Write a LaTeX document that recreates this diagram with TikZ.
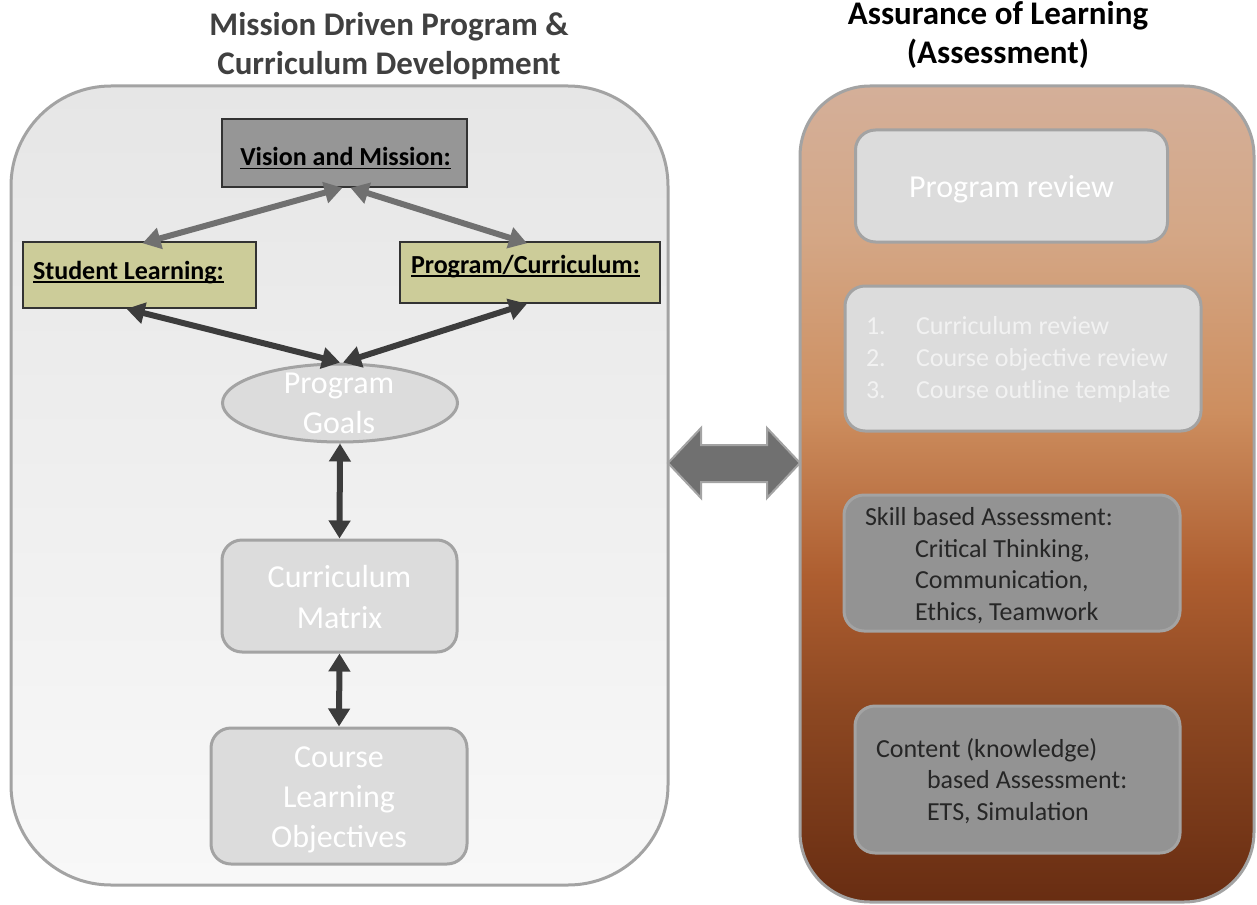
\documentclass[tikz,border=0pt]{standalone}
\usepackage{fontspec}
\setmainfont{Carlito}
\usetikzlibrary{arrows.meta,shapes.geometric}
\definecolor{lbTop}{HTML}{E6E6E6}
\definecolor{lbBot}{HTML}{F8F8F8}
\definecolor{bord}{HTML}{A3A3A3}
\definecolor{lightfill}{HTML}{DCDCDC}
\definecolor{darkfill}{HTML}{939393}
\definecolor{vmfill}{HTML}{969696}
\definecolor{olive}{HTML}{CCCC99}
\definecolor{grayarr}{HTML}{707070}
\definecolor{darkarr}{HTML}{3C3C3C}
\definecolor{titlegray}{HTML}{404040}
\definecolor{darktext}{HTML}{262626}
\definecolor{listtext}{HTML}{F2F2F2}
\definecolor{aolT}{HTML}{D4AF99}
\definecolor{aolF}{HTML}{D4A786}
\definecolor{aolE}{HTML}{CD8E5F}
\definecolor{aolD}{HTML}{AE5E30}
\definecolor{aolC}{HTML}{8D4822}
\definecolor{aolB}{HTML}{682D12}
\pgfdeclareverticalshading{aolshade}{100bp}{color(0bp)=(aolB); color(25bp)=(aolB); color(37bp)=(aolC); color(45bp)=(aolD); color(55bp)=(aolE); color(66bp)=(aolF); color(75bp)=(aolT); color(100bp)=(aolT)}
\newcommand\myul[1]{\setbox0\hbox{#1}\rlap{\rule[-3.5pt]{\wd0}{1.8pt}}\box0}
\newcommand\fsz[1]{\fontsize{#1pt}{#1pt}\selectfont}
\tikzset{
  txt/.style={inner sep=0pt, outer sep=0pt},
  lightbox/.style={draw=bord, line width=3pt, fill=lightfill, rounded corners=20pt, inner sep=0pt},
  darkbox/.style={draw=bord, line width=3pt, fill=darkfill, rounded corners=20pt, inner sep=0pt},
  sqbox/.style={draw=black!80, line width=1.5pt, inner sep=0pt},
  grayarrow/.style={draw=grayarr, line width=6pt, {Triangle[length=18pt,width=21pt]}-{Triangle[length=18pt,width=21pt]}},
  darkarrow/.style={draw=darkarr, line width=6pt, {Triangle[length=18pt,width=21pt]}-{Triangle[length=18pt,width=21pt]}},
}
\begin{document}
\begin{tikzpicture}[x=1pt,y=-1pt]
\useasboundingbox (0,0) rectangle (1257,904);
% containers
\node[draw=bord, line width=3pt, top color=lbTop, bottom color=lbBot, rounded corners=100pt, minimum width=657pt, minimum height=799pt, inner sep=0pt] (left) at (339.5,485.5) {};
\node[draw=bord, line width=3pt, shading=aolshade, rounded corners=70pt, minimum width=454pt, minimum height=816pt, inner sep=0pt] (right) at (1027,494) {};
% titles
\node[txt, anchor=base, text=titlegray, font=\bfseries\fsz{33}] (t1) at (389,36) {Mission Driven Program \&};
\node[txt, anchor=base, text=titlegray, font=\bfseries\fsz{33}] (t2) at (389,75) {Curriculum Development};
\node[txt, anchor=base, text=black, font=\bfseries\fsz{33}] (t3) at (998,25) {Assurance of Learning};
\node[txt, anchor=base, text=black, font=\bfseries\fsz{33}] (t4) at (998,64) {(Assessment)};
% left boxes
\node[sqbox, fill=vmfill, minimum width=245pt, minimum height=68pt] (vm) at (344.5,153) {};
\node[txt, anchor=base, font=\bfseries\fsz{26}] (vmt) at (345.5,166) {\myul{Vision and Mission:}};
\node[sqbox, fill=olive, minimum width=233pt, minimum height=66pt] (sl) at (139.5,275) {};
\node[txt, anchor=base west, font=\bfseries\fsz{26}] (slt) at (33,279) {\myul{Student Learning:}};
\node[sqbox, fill=olive, minimum width=260pt, minimum height=61pt] (pc) at (530,272.5) {};
\node[txt, anchor=base west, font=\bfseries\fsz{26}] (pct) at (411,273) {\myul{Program/Curriculum:}};
\node[ellipse, draw=bord, line width=3pt, fill=lightfill, minimum width=235pt, minimum height=78pt, inner sep=0pt] (goals) at (340,403) {};
\node[txt, anchor=base, text=white, font=\fsz{32}] (g1) at (339,393) {Program};
\node[txt, anchor=base, text=white, font=\fsz{32}] (g2) at (339,433) {Goals};
\node[lightbox, minimum width=235pt, minimum height=112pt] (cm) at (339.5,596) {};
\node[txt, anchor=base, text=white, font=\fsz{32}] (cm1) at (339.5,587) {Curriculum};
\node[txt, anchor=base, text=white, font=\fsz{32}] (cm2) at (339.5,628) {Matrix};
\node[lightbox, minimum width=256pt, minimum height=136pt] (clo) at (339,796) {};
\node[txt, anchor=base, text=white, font=\fsz{32}] (c1) at (339,767) {Course};
\node[txt, anchor=base, text=white, font=\fsz{32}] (c2) at (339,807) {Learning};
\node[txt, anchor=base, text=white, font=\fsz{32}] (c3) at (339,847) {Objectives};
% connectors left
\draw[grayarrow] ([xshift=-2pt]vm.south) -- ([xshift=3pt,yshift=-2pt]sl.north);
\draw[grayarrow] ([xshift=6pt]vm.south) -- ([xshift=-3pt,yshift=-2pt]pc.north);
\draw[darkarrow] ([xshift=-13pt]sl.south) -- (goals.north);
\draw[darkarrow] ([xshift=-3pt]pc.south) -- ([xshift=3pt]goals.north);
\draw[darkarrow] (goals.south) -- (cm.north);
\draw[darkarrow] (cm.south) -- (clo.north);
% block double arrow between containers
\path[fill=grayarr, draw=bord, line width=2pt, line join=miter]
  (668,463) -- (701,428) -- (701,445) -- (767,445) -- (767,428) -- (800,463)
  -- (767,498) -- (767,482) -- (701,482) -- (701,498) -- cycle;
% right boxes
\node[lightbox, minimum width=312pt, minimum height=112pt] (pr) at (1011.5,186) {};
\node[txt, anchor=base, text=white, font=\fsz{32}] (prt) at (1011.5,197) {Program review};
\node[lightbox, minimum width=356pt, minimum height=145pt] (lst) at (1023,358.5) {};
\node[txt, anchor=base west, text=listtext, font=\fsz{26}] (n1) at (866,334) {1.};
\node[txt, anchor=base west, text=listtext, font=\fsz{26}] (n2) at (866,366) {2.};
\node[txt, anchor=base west, text=listtext, font=\fsz{26}] (n3) at (866,398) {3.};
\node[txt, anchor=base west, text=listtext, font=\fsz{26}] (l1) at (916,334) {Curriculum review};
\node[txt, anchor=base west, text=listtext, font=\fsz{26}] (l2) at (916,366) {Course objective review};
\node[txt, anchor=base west, text=listtext, font=\fsz{26}] (l3) at (916,398) {Course outline template};
\node[darkbox, minimum width=336pt, minimum height=136pt] (sk) at (1012,563) {};
\node[txt, anchor=base west, text=darktext, font=\fsz{26}] (s1) at (865,525) {Skill based Assessment:};
\node[txt, anchor=base west, text=darktext, font=\fsz{26}] (s2) at (915,557) {Critical Thinking,};
\node[txt, anchor=base west, text=darktext, font=\fsz{26}] (s3) at (915,588) {Communication,};
\node[txt, anchor=base west, text=darktext, font=\fsz{26}] (s4) at (915,620) {Ethics, Teamwork};
\node[darkbox, minimum width=325pt, minimum height=147pt] (ct) at (1017.5,779.5) {};
\node[txt, anchor=base west, text=darktext, font=\fsz{26}] (k1) at (876,757) {Content (knowledge)};
\node[txt, anchor=base west, text=darktext, font=\fsz{26}] (k2) at (927,788) {based Assessment:};
\node[txt, anchor=base west, text=darktext, font=\fsz{26}] (k3) at (927,820) {ETS, Simulation};
\end{tikzpicture}
\end{document}
